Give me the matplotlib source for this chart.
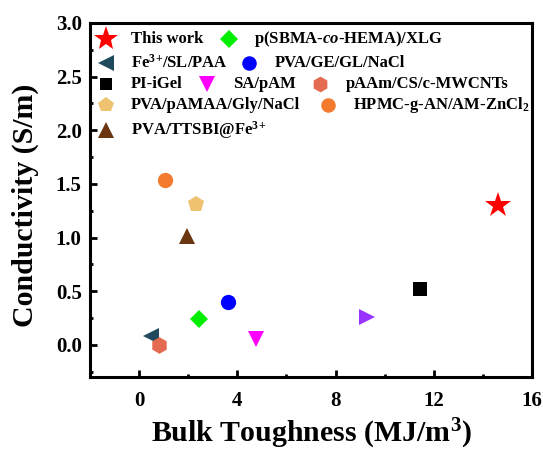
import matplotlib
matplotlib.use("Agg")
import matplotlib.pyplot as plt
from matplotlib.ticker import MultipleLocator

plt.rcParams['font.family'] = ['Liberation Serif', 'DejaVu Serif']
plt.rcParams['font.weight'] = 'bold'
plt.rcParams['mathtext.fontset'] = 'custom'
plt.rcParams['mathtext.rm'] = 'Liberation Serif:bold'
plt.rcParams['mathtext.bf'] = 'Liberation Serif:bold'
plt.rcParams['mathtext.it'] = 'Liberation Serif:italic:bold'
plt.rcParams['mathtext.default'] = 'rm'

# Materials: bulk toughness (MJ/m^3) vs conductivity (S/m)
labels = ["This work", "p(SBMA-$\\mathit{co}$-HEMA)/XLG", "Fe$^{3}$$^{+}$/SL/PAA", "PVA/GE/GL/NaCl",
          "PI-iGel", "SA/pAM", "pAAm/CS/c-MWCNTs", "PVA/pAMAA/Gly/NaCl",
          "HPMC-g-AN/AM-ZnCl$_2$", "PVA/TTSBI@Fe$^{3}$$^{+}$", ""]
toughness = [14.6, 2.45, 0.5, 3.6, 11.45, 4.75, 0.8, 2.3, 1.07, 1.95, 9.3]
conductivity = [1.30, 0.24, 0.08, 0.40, 0.52, 0.05, 0.0, 1.31, 1.54, 1.01, 0.26]
markers = ["*", "D", "<", "o", "s", "v", "h", "p", "o", "^", ">"]
colors = ["#FF0000", "#00EE00", "#1F4A5C", "#0000FF", "#000000", "#FF00FF",
          "#E56A52", "#EEC26E", "#F37A2E", "#6B3510", "#9933FF"]
sizes = [19, 9.5, 11.5, 11, 9.5, 12, 12, 12, 11, 12, 12]

fig = plt.figure(figsize=(5.43, 4.5), dpi=100)
ax = fig.add_axes([90 / 543, 1 - 377 / 450, (532 - 90) / 543, (377 - 23) / 450])

for x, y, m, c, s in zip(toughness, conductivity, markers, colors, sizes):
    ax.plot(x, y, marker=m, color=c, markersize=s, linestyle='none', markeredgewidth=0)

ax.set_xlim(-2, 16)
ax.set_ylim(-0.3, 3.0)
ax.xaxis.set_major_locator(MultipleLocator(4))
ax.xaxis.set_minor_locator(MultipleLocator(2))
ax.yaxis.set_major_locator(MultipleLocator(0.5))
ax.yaxis.set_minor_locator(MultipleLocator(0.25))
ax.tick_params(which='both', direction='in', top=False, right=False, width=2)
ax.tick_params(which='major', length=5, labelsize=15)
ax.tick_params(axis='x', which='major', pad=10)
ax.tick_params(axis='y', which='major', pad=6)
ax.tick_params(which='minor', length=2.5)
for sp in ax.spines.values():
    sp.set_linewidth(2.2)
for lab in ax.get_xticklabels() + ax.get_yticklabels():
    lab.set_fontweight('bold')

ax.set_xlabel("Bulk Toughness (MJ/m$^3$)", fontsize=21.5, fontweight='bold', va='baseline')
ax.xaxis.set_label_coords(0.5, -0.184)
ax.set_ylabel("Conductivity (S/m)", fontsize=21.5, fontweight='bold', va='center')
ax.yaxis.set_label_coords(-0.147, 0.484)

# Hand-placed legend rows (pixel positions in figure space)
W, H = 543, 450
legend_rows = [
    (39, [(106, 0, 131), (229, 1, 254)]),
    (63, [(106, 2, 131), (249, 3, 275)]),
    (84, [(106, 4, 131), (207, 5, 233), (320, 6, 346)]),
    (105, [(106, 7, 131), (328, 8, 353)]),
    (130, [(106, 9, 131)]),
]
for ypix, items in legend_rows:
    for mx, idx, tx in items:
        yf = 1 - ypix / H
        fig.lines.append(plt.Line2D([mx / W], [yf], transform=fig.transFigure,
                                    marker=markers[idx], color=colors[idx],
                                    markersize=sizes[idx] * 0.95, markeredgewidth=0,
                                    linestyle='none'))
        fig.text(tx / W, yf, labels[idx], fontsize=12, fontweight='bold',
                 va='center', ha='left')

fig.savefig("out.png", dpi=100)
